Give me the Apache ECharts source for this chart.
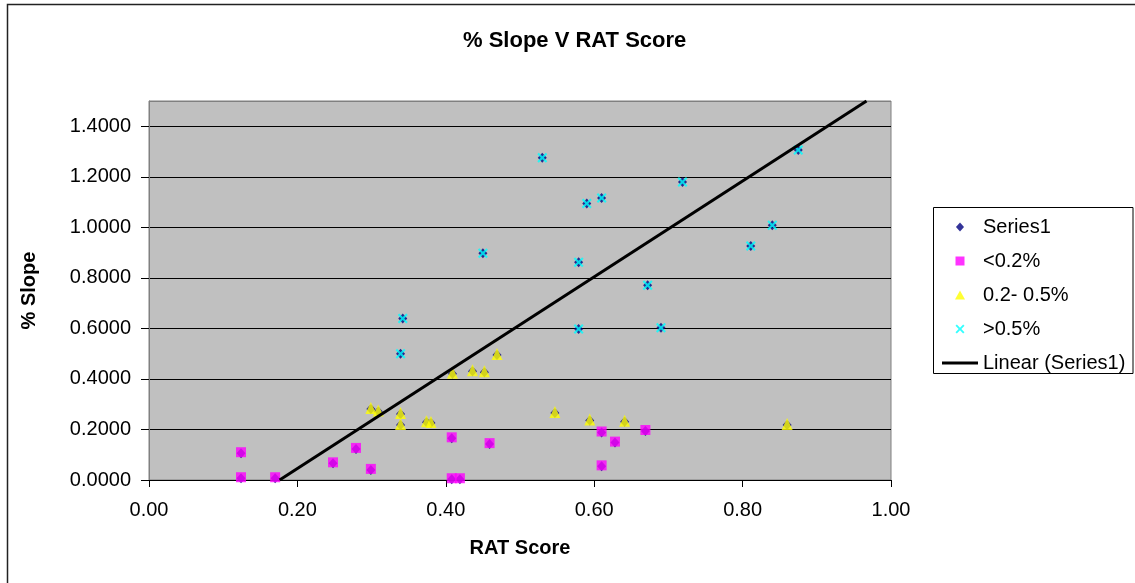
<!DOCTYPE html>
<html>
<head>
<meta charset="utf-8">
<script src="https://cdn.jsdelivr.net/npm/echarts@6/dist/echarts.min.js"></script>
<style>
html,body{margin:0;padding:0;background:#fff;}
#c{width:1135px;height:583px;}
</style>
</head>
<body>
<div id="c"></div>
<script>
// ---- data ----
const lowX  = [0.124,0.124,0.170,0.248,0.279,0.299,0.408,0.408,0.419,0.459,0.610,0.628,0.610,0.669];
const lowY  = [0.106,0.007,0.007,0.066,0.123,0.040,0.165,0.003,0.003,0.142,0.188,0.148,0.054,0.194];
const midX  = [0.299,0.309,0.339,0.339,0.374,0.380,0.409,0.436,0.452,0.469,0.547,0.594,0.641,0.860];
const midY  = [0.281,0.271,0.261,0.218,0.229,0.226,0.421,0.430,0.426,0.495,0.265,0.235,0.231,0.218];
const highX = [0.530,0.590,0.610,0.450,0.579,0.579,0.342,0.339,0.719,0.875,0.840,0.811,0.672,0.690];
const highY = [1.275,1.094,1.116,0.897,0.862,0.598,0.639,0.500,1.179,1.306,1.008,0.926,0.771,0.603];
const trendX = [0.176, 0.967];
const trendY = [0.000, 1.500];
const seriesNames = ['Series1','<0.2%','0.2- 0.5%','>0.5%','Linear (Series1)'];
const xTicks = [0, 1, 0.2];     // min, max, interval
const yTicks = [0, 1.5, 0.2];   // min, max, interval

const pair = (xs, ys) => xs.map((x, i) => [x, ys[i]]);
const lowData = pair(lowX, lowY);
const midData = pair(midX, midY);
const highData = pair(highX, highY);
const allData = lowData.concat(midData, highData);
const trendData = pair(trendX, trendY);

const FONT = '"Liberation Sans", Arial, sans-serif';
const xPath = 'path://M0,1.5 L1.5,0 L5,3.5 L8.5,0 L10,1.5 L6.5,5 L10,8.5 L8.5,10 L5,6.5 L1.5,10 L0,8.5 L3.5,5 Z';
const diamondPath = 'path://M4.5,0 L9,5 L4.5,10 L0,5 Z';
const squarePath = 'path://M0,0 L10,0 L10,10 L0,10 Z';
const trianglePath = 'path://M5,0 L10,9 L0,9 Z';
const linePath = 'path://M0,0 L36,0 L36,3 L0,3 Z';

const chart = echarts.init(document.getElementById('c'), null, {renderer: 'canvas'});
const splitColors = [];
for (let v = yTicks[0]; v <= yTicks[1] + 1e-9; v += yTicks[2]) splitColors.push('#000');
splitColors.push('#808080');

chart.setOption({
  animation: false,
  backgroundColor: '#fff',
  textStyle: {fontFamily: FONT},
  title: {
    text: '% Slope V RAT Score',
    left: 458, top: 25,
    textStyle: {fontFamily: FONT, fontSize: 22, fontWeight: 'bold', color: '#000'}
  },
  graphic: [
    {type: 'rect', shape: {x: 7.5, y: 4.5, width: 1300, height: 800},
     style: {fill: 'none', stroke: '#222', lineWidth: 1.5}, silent: true},
    {type: 'rect', shape: {x: 933.5, y: 207.5, width: 199.5, height: 166},
     style: {fill: '#fff', stroke: '#000', lineWidth: 1}, silent: true, z: 0}
  ],
  legend: {
    orient: 'vertical',
    left: 942, top: 217,
    itemWidth: 36, itemHeight: 9,
    itemGap: 14,
    itemTextGap: 5,
    padding: 0,
    z: 10,
    symbolKeepAspect: true,
    textStyle: {fontFamily: FONT, fontSize: 20, color: '#000'},
    data: [
      {name: seriesNames[0], icon: diamondPath},
      {name: seriesNames[1], icon: squarePath},
      {name: seriesNames[2], icon: trianglePath},
      {name: seriesNames[3], icon: xPath},
      {name: seriesNames[4], icon: linePath, itemStyle: {color: '#000', borderWidth: 0}}
    ]
  },
  grid: {
    left: 149, top: 101, right: 244, bottom: 103,
    show: true, backgroundColor: '#C0C0C0', borderColor: '#808080', borderWidth: 1
  },
  xAxis: {
    type: 'value', min: xTicks[0], max: xTicks[1], interval: xTicks[2],
    name: 'RAT Score', nameLocation: 'middle', nameGap: 58,
    nameTextStyle: {fontFamily: FONT, fontSize: 20, fontWeight: 'bold', color: '#000'},
    axisLine: {show: true, lineStyle: {color: '#000', width: 1}},
    axisTick: {show: true, inside: false, length: 7, lineStyle: {color: '#000'}},
    axisLabel: {margin: 20, fontFamily: FONT, fontSize: 20, color: '#000',
      formatter: v => v.toFixed(2)},
    splitLine: {show: false}
  },
  yAxis: {
    type: 'value', min: yTicks[0], max: yTicks[1], interval: yTicks[2],
    name: '% Slope', nameLocation: 'middle', nameGap: 110, nameRotate: 90,
    nameTextStyle: {fontFamily: FONT, fontSize: 20, fontWeight: 'bold', color: '#000'},
    axisLine: {show: true, lineStyle: {color: '#808080', width: 1}},
    axisTick: {show: true, inside: false, length: 8, lineStyle: {color: '#000'}},
    axisLabel: {margin: 18, fontFamily: FONT, fontSize: 20, color: '#000',
      showMaxLabel: false, formatter: v => v.toFixed(4)},
    splitLine: {show: true, lineStyle: {color: splitColors, width: 1}}
  },
  series: [
    {name: seriesNames[0], type: 'scatter', data: allData, symbol: 'diamond', symbolSize: [9, 10],
     itemStyle: {color: '#000080'}},
    {name: seriesNames[1], type: 'scatter', data: lowData, symbol: 'rect', symbolSize: 10,
     symbolOffset: [0, -1], itemStyle: {color: '#FF00FF'}},
    {name: seriesNames[2], type: 'scatter', data: midData, symbol: 'triangle', symbolSize: [11, 12],
     symbolOffset: [0, -1], itemStyle: {color: '#FFFF00'}},
    {name: seriesNames[3], type: 'scatter', data: highData, symbol: xPath, symbolSize: 10,
     itemStyle: {color: '#00FFFF'}},
    {name: seriesNames[4], type: 'line', data: trendData, showSymbol: false, symbol: 'none',
     lineStyle: {color: '#000', width: 3}, itemStyle: {color: '#000'}, z: 3}
  ]
});
</script>
</body>
</html>
